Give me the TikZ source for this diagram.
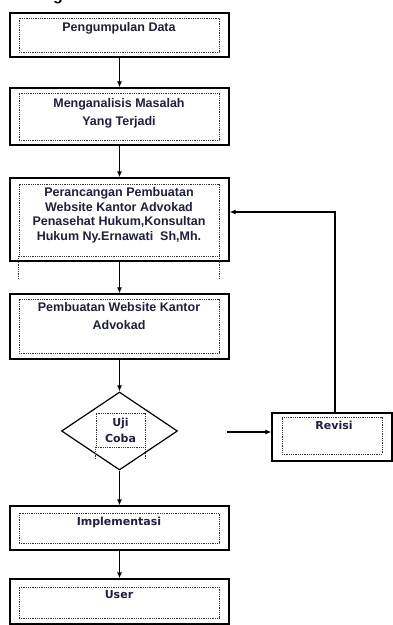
\documentclass[tikz,border=0pt]{standalone}
\usepackage{fontspec}
\setmainfont{Liberation Sans}
\newfontfamily\dejavu{DejaVu Sans}
\usepackage{tikz}
\usepackage{xcolor}
\usetikzlibrary{arrows.meta,shapes.geometric}
\definecolor{tinta}{rgb}{0.12,0.12,0.25}

\begin{document}
\begin{tikzpicture}[x=1pt,y=-1pt,
        luar/.style={draw=black, line width=1.2pt, fill=white, minimum width=219pt, inner sep=0pt},
        dalam/.style={draw=black!80, densely dotted, line width=0.8pt, minimum width=200pt, inner sep=0pt},
        teks/.style={text=tinta, align=center, inner sep=0pt, anchor=north, font=\bfseries\fontsize{12.5}{18}\selectfont},
        teksb/.style={text=tinta, align=center, inner sep=0pt, anchor=north, font=\dejavu\bfseries\fontsize{11}{16}\selectfont},
        panah/.style={-{Latex[length=6pt,width=5pt]}, line width=1.2pt}]
                \useasboundingbox (0,0) rectangle (393,625);
                \node[font=\bfseries\fontsize{16}{16}\selectfont, anchor=base, inner sep=0pt] (judul) at (58,0.5) {g};
                % kotak utama
                \node[luar, minimum height=44pt] (b1) at (119.5,35) {};
                \node[dalam, minimum height=34pt] (d1) at (119,35) {};
                \node[teks] (t1) at (119,22.5) {Pengumpulan Data};
                \node[luar, minimum height=57pt] (b2) at (119.5,116.5) {};
                \node[dalam, minimum height=47pt] (d2) at (119,116.5) {};
                \node[teks] (t2) at (119,98.5) {Menganalisis Masalah\\Yang Terjadi};
                \node[luar, minimum height=83pt] (b3) at (119.5,219.5) {};
                \node[dalam, minimum height=72pt] (d3) at (119,220) {};
                \node[teks, font=\bfseries\fontsize{12.5}{14.5}\selectfont] (t3) at (119,187.5)
                        {Perancangan Pembuatan\\Website Kantor Advokad\\Penasehat Hukum,Konsultan\\Hukum Ny.Ernawati~ Sh,Mh.};
                \draw[dalam] (d3.south west) -- ++(0,22);
                \draw[dalam] (d3.south east) -- ++(0,22);
                \node[luar, minimum height=65pt] (b4) at (119.5,326.5) {};
                \node[dalam, minimum height=54pt] (d4) at (119,326) {};
                \node[teks] (t4) at (119,302.5) {Pembuatan Website Kantor\\Advokad};
                % uji coba
                \node[draw=black, line width=1.2pt, shape=diamond, minimum width=116pt, minimum height=78pt, inner sep=0pt] (uji) at (119.5,431) {};
                \node[dalam, minimum width=49pt, minimum height=34pt] (du) at (120.5,430) {};
                \draw[dalam] (du.south west) -- ++(0,11);
                \draw[dalam] (du.south east) -- ++(0,11);
                \node[teksb] (tu) at (120.5,417.5) {Uji\\Coba};
                % revisi
                \node[luar, minimum width=120pt, minimum height=48pt] (rev) at (332,437) {};
                \node[dalam, minimum width=100pt, minimum height=37pt] (drev) at (332,435.5) {};
                \node[teksb] (trev) at (334,420.5) {Revisi};
                \node[luar, minimum height=44pt] (imp) at (119.5,528) {};
                \node[dalam, minimum height=30pt] (dimp) at (119,528) {};
                \node[teksb] (timp) at (119,516.5) {Implementasi};
                \node[luar, minimum height=45pt] (usr) at (119.5,601.5) {};
                \node[dalam, minimum height=31pt] (dusr) at (119,602.5) {};
                \node[teksb] (tusr) at (119,590.5) {User};
                % panah
                \draw[panah] (b1) -- (b2);
                \draw[panah] (b2) -- (b3);
                \draw[panah] (b3) -- (b4);
                \draw[panah] (b4) -- (uji);
                \draw[panah] (uji) -- (imp);
                \draw[panah] (imp) -- (usr);
                \coordinate (masuk) at (227,432);
                \draw[panah] (masuk) -- (masuk -| rev.west);
                \coordinate (balik) at (335,212);
                \draw[panah] (rev.north -| balik) -- (balik) -- (balik -| b3.east);
            \end{tikzpicture}
\end{document}
